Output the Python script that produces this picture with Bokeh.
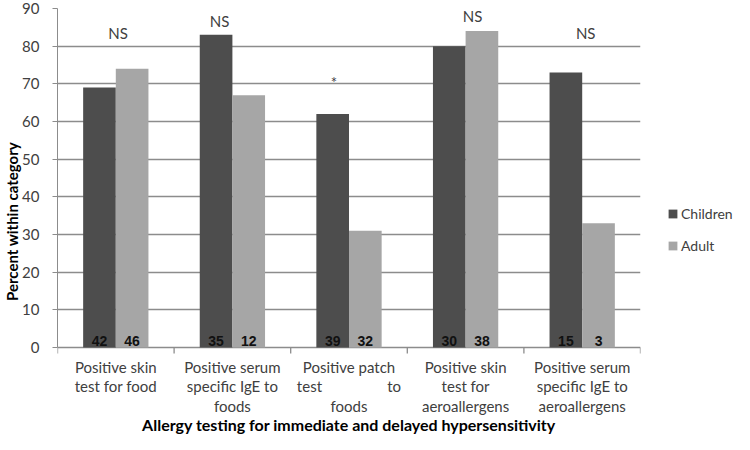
import math
from bokeh.plotting import figure
from bokeh.layouts import row
from bokeh.models import FixedTicker, Legend, LegendItem, ColumnDataSource, Range1d
from bokeh.core.properties import value
from bokeh.embed import file_html
from bokeh.resources import INLINE

NB = "\u00a0"
categories = [
    "Positive skin\ntest for food",
    "Positive serum\nspecific IgE to\nfoods",
    "Positive patch\ntest" + NB * 17 + "to\nfoods",
    "Positive skin\ntest for\naeroallergens",
    "Positive serum\nspecific IgE to\naeroallergens",
]
series_names = ["Children", "Adult"]
children_pct = [69, 83, 62, 80, 73]
adult_pct = [74, 67, 31, 84, 33]
children_n = [42, 35, 39, 30, 15]
adult_n = [46, 12, 32, 38, 3]
sig_labels = ["NS", "NS", "*", "NS", "NS"]
sig_level = [83.6, 86.6, 70.5, 88.0, 83.6]
y_ticks = [0, 10, 20, 30, 40, 50, 60, 70, 80, 90]
x_title = "Allergy testing for immediate and delayed hypersensitivity"
y_title = "Percent within category"

DARK = "#4d4d4d"
LIGHT = "#a6a6a6"
FONT = "Lato"
TXT = "#404040"
GRID = "#8c8c8c"

n = len(categories)
centers = [i + 0.5 for i in range(n)]
off = 0.14
bw = 0.28
sig_dx = [0.02, -0.11, -0.13, 0.06, 0.03]

# layout in pixels (figure coords)
H = 434
TOP = 8          # y = 90
ZERO = 347       # y = 0
ppu = (ZERO - TOP) / 90.0
y_start = -(H - ZERO) / ppu

src = ColumnDataSource(dict(
    xc=[c - off for c in centers],
    xa=[c + off for c in centers],
    child=children_pct,
    adult=adult_pct,
    cn=[str(v) for v in children_n],
    an=[str(v) for v in adult_n],
    ly=[0.5] * n,
))
sig_src = ColumnDataSource(dict(
    x=[c + d for c, d in zip(centers, sig_dx)],
    y=sig_level,
    t=sig_labels,
))
cat_src = ColumnDataSource(dict(x=centers, y=[0] * n, t=categories))
bnd_src = ColumnDataSource(dict(x=[float(i) for i in range(n + 1)], y=[0] * (n + 1)))

p = figure(width=642, height=H, output_backend="svg", toolbar_location=None,
           x_range=Range1d(0, n), y_range=Range1d(y_start, 90),
           x_axis_type=None,
           min_border_left=0, min_border_top=TOP, min_border_right=2, min_border_bottom=0)
p.outline_line_color = None
p.background_fill_color = "white"

p.vbar(x="xc", top="child", width=bw, bottom=0, source=src, fill_color=DARK, line_color=None)
p.vbar(x="xa", top="adult", width=bw, bottom=0, source=src, fill_color=LIGHT, line_color=None)

p.text(x="xc", y="ly", text="cn", source=src, text_align="center", text_baseline="bottom",
       text_font=value("Liberation Sans"), text_font_style="bold", text_font_size="14px", text_color="#111111")
p.text(x="xa", y="ly", text="an", source=src, text_align="center", text_baseline="bottom",
       text_font=value("Liberation Sans"), text_font_style="bold", text_font_size="14px", text_color="#111111")

p.text(x="x", y="y", text="t", source=sig_src, text_align="center", text_baseline="middle",
       text_font=value(FONT), text_font_size="15px", text_color=TXT)

# grid (the line at 0 is the category baseline)
p.xgrid.grid_line_color = None
p.ygrid.grid_line_color = GRID
p.ygrid.grid_line_width = 1.3
p.ygrid.ticker = FixedTicker(ticks=y_ticks)

# category boundary ticks below the baseline
p.ray(x="x", y="y", source=bnd_src, length=6, length_units="screen", angle=-math.pi / 2,
      line_color=GRID, line_width=1.3)

# category labels and axis title below the baseline
p.text(x="x", y="y", text="t", source=cat_src, text_align="center", text_baseline="top",
       y_offset=10, text_font=value(FONT), text_font_size="15px", text_color=TXT,
       text_line_height=1.09)
p.text(x=[n / 2], y=[0], text=[x_title], text_align="center", text_baseline="middle",
       y_offset=77, text_font=value(FONT), text_font_style="bold", text_font_size="16px",
       text_color="#000000")

# y axis
ya = p.yaxis[0]
ya.ticker = FixedTicker(ticks=y_ticks)
ya.bounds = (0, 90)
ya.axis_line_color = GRID
ya.major_tick_line_color = GRID
ya.major_tick_out = 5
ya.major_tick_in = 0
ya.minor_tick_line_color = None
ya.major_label_standoff = 13
ya.major_label_text_font = FONT
ya.major_label_text_font_size = "15px"
ya.major_label_text_color = TXT
ya.axis_label = y_title
ya.axis_label_text_font = FONT
ya.axis_label_text_font_style = "bold"
ya.axis_label_text_font_size = "15px"
ya.axis_label_text_color = "#000000"
ya.axis_label_standoff = -2

# legend panel
lg = figure(width=92, height=H, output_backend="svg", toolbar_location=None,
            x_range=Range1d(100, 101), y_range=Range1d(100, 101),
            x_axis_type=None, y_axis_type=None,
            min_border_left=0, min_border_right=0, min_border_top=0, min_border_bottom=0)
lg.outline_line_color = None
lg.xgrid.grid_line_color = None
lg.ygrid.grid_line_color = None
g1 = lg.vbar(x="xc", top="child", width=bw, source=src, fill_color=DARK, line_color=None)
g2 = lg.vbar(x="xa", top="adult", width=bw, source=src, fill_color=LIGHT, line_color=None)
legend = Legend(items=[LegendItem(label=series_names[0], renderers=[g1]),
                       LegendItem(label=series_names[1], renderers=[g2])],
                location=(25, 179), padding=10, spacing=12,
                glyph_width=11, glyph_height=11, label_height=20, label_standoff=3,
                label_text_font=FONT, label_text_font_size="14px", label_text_color=TXT,
                border_line_color=None, background_fill_alpha=0)
lg.add_layout(legend)

layout = row(p, lg, spacing=0)
open("out.html", "w").write(file_html(layout, INLINE))
